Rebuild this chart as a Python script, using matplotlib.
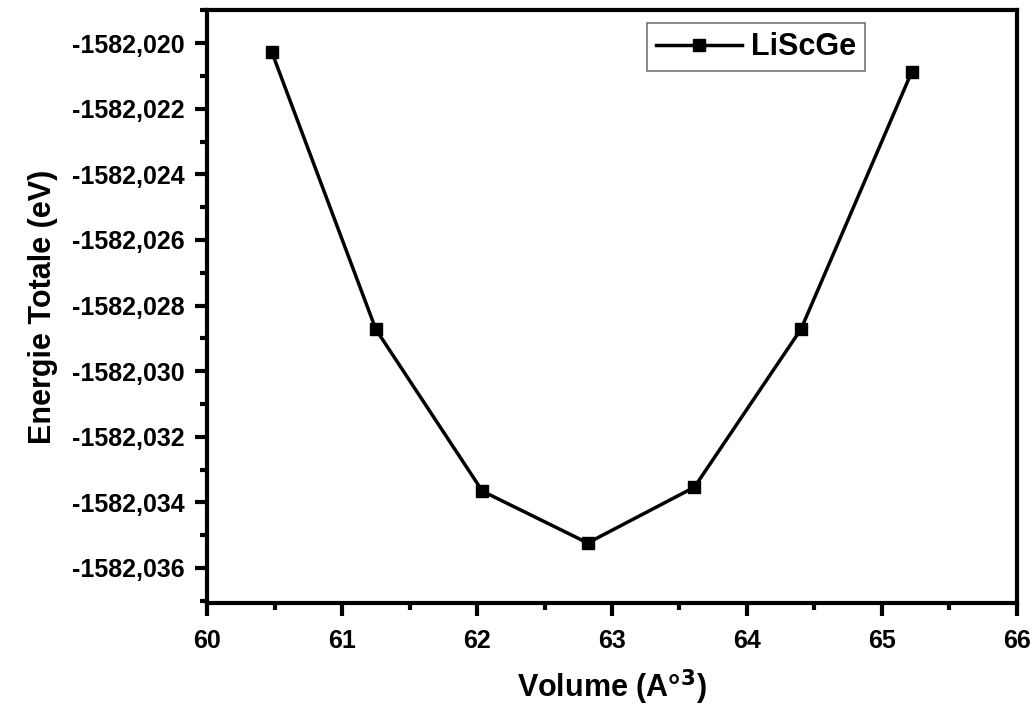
import matplotlib
matplotlib.use("Agg")
import matplotlib.pyplot as plt
from matplotlib.ticker import MultipleLocator, FuncFormatter

volume = [60.48, 61.25, 62.04, 62.82, 63.61, 64.40, 65.22]
energy = [-1582.02027, -1582.02872, -1582.03366, -1582.03524,
          -1582.03354, -1582.02872, -1582.02088]
series_label = "LiScGe"
x_label = "Volume (A°$^{3}$)"
y_label = "Energie Totale (eV)"

plt.rcParams['font.family'] = ['Liberation Sans', 'DejaVu Sans']
plt.rcParams['font.weight'] = 'bold'

fig = plt.figure(figsize=(10.33, 7.17), dpi=100)
ax = fig.add_axes([0.2004, 0.159, 0.7841, 0.827])

ax.plot(volume, energy, color='black', linewidth=2.5, marker='s',
        markersize=9, label=series_label)

ax.set_xlim(60, 66)
ax.set_ylim(-1582.03707, -1582.01899)
ax.xaxis.set_major_locator(MultipleLocator(1))
ax.xaxis.set_minor_locator(MultipleLocator(0.5))
ax.yaxis.set_major_locator(MultipleLocator(0.002))
ax.yaxis.set_minor_locator(MultipleLocator(0.001))
ax.yaxis.set_major_formatter(FuncFormatter(lambda v, p: f"{v:.3f}".replace('.', ',')))
ax.xaxis.set_major_formatter(FuncFormatter(lambda v, p: f"{v:.0f}"))

for s in ax.spines.values():
    s.set_linewidth(3)
ax.tick_params(which='major', direction='out', length=9, width=3, labelsize=18, pad=7)
ax.tick_params(axis='x', which='major', pad=10)
ax.tick_params(which='minor', direction='out', length=5, width=3)
ax.tick_params(top=False, right=False)

ax.set_xlabel(x_label, fontsize=22, fontweight='bold', labelpad=10)
ax.set_ylabel(y_label, fontsize=22, fontweight='bold', labelpad=10)

leg = ax.legend(loc='upper left', bbox_to_anchor=(0.543, 0.978), fontsize=22,
                frameon=True, fancybox=False, edgecolor='#555555',
                handlelength=2.8, borderpad=0.3, handletextpad=0.3,
                borderaxespad=0)
leg.get_frame().set_linewidth(1.2)

fig.savefig("out.png", dpi=100)
